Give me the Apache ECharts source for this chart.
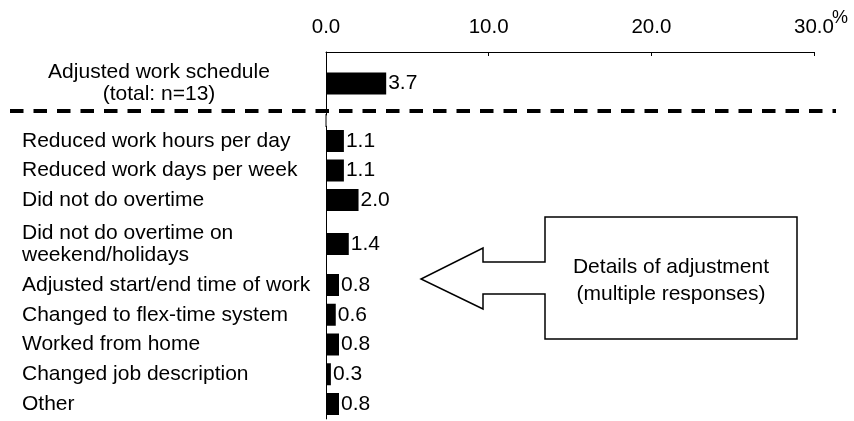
<!DOCTYPE html>
<html>
<head>
<meta charset="utf-8">
<script src="https://cdn.jsdelivr.net/npm/echarts@6/dist/echarts.min.js"></script>
<style>html,body{margin:0;padding:0;background:#fff}#c{width:854px;height:421px}</style>
</head>
<body>
<div id="c"></div>
<script>
// ---- data ----
const topCategories = ['Adjusted work schedule\n(total: n=13)'];
const topValues = [3.7];
const groupBCategories = ['Reduced work hours per day', 'Reduced work days per week', 'Did not do overtime'];
const groupBValues = [1.1, 1.1, 2.0];
const groupCCategories = ['Did not do overtime on\nweekend/holidays'];
const groupCValues = [1.4];
const groupDCategories = ['Adjusted start/end time of work', 'Changed to flex-time system', 'Worked from home', 'Changed job description', 'Other'];
const groupDValues = [0.8, 0.6, 0.8, 0.3, 0.8];
const axisMin = 0, axisMax = 30, axisStep = 10;
const unitLabel = '%';
const annotationText = 'Details of adjustment\n(multiple responses)';

// ---- chart ----
const FONT = '"Liberation Sans", Arial, sans-serif';
const chart = echarts.init(document.getElementById('c'), null, {renderer: 'canvas'});

const L = 326, R = 854 - 814;
const grids = [
  {left: L, right: R, top: 52, height: 63},
  {left: L, right: R, top: 126.25, height: 88.5},
  {left: L, right: R, top: 214.75, height: 58.5},
  {left: L, right: R, top: 270.1, height: 148.8}
];
const groups = [
  {cats: topCategories, vals: topValues, align: 'center', margin: 167},
  {cats: groupBCategories, vals: groupBValues, align: 'left', margin: 304},
  {cats: groupCCategories, vals: groupCValues, align: 'left', margin: 304},
  {cats: groupDCategories, vals: groupDValues, align: 'left', margin: 304}
];

const xAxes = grids.map((g, i) => ({
  type: 'value', gridIndex: i, min: axisMin, max: axisMax, interval: axisStep,
  position: 'top', show: i === 0,
  axisLine: {show: true, lineStyle: {color: '#000', width: 1}},
  axisTick: {show: true, inside: true, length: 4, lineStyle: {color: '#000'}},
  axisLabel: {show: true, margin: 14, color: '#000', fontSize: 20.5, fontFamily: FONT,
              formatter: v => v.toFixed(1)},
  splitLine: {show: false}
}));

const yAxes = groups.map((g, i) => ({
  type: 'category', gridIndex: i, inverse: true, data: g.cats,
  axisLine: {show: true, lineStyle: {color: '#000', width: 1}},
  axisTick: {show: false},
  axisLabel: {show: true, align: g.align, margin: g.margin, color: '#000',
              fontSize: 21, lineHeight: 22, fontFamily: FONT}
}));

const series = groups.map((g, i) => ({
  type: 'bar', xAxisIndex: i, yAxisIndex: i, data: g.vals, barWidth: 22,
  itemStyle: {color: '#000'},
  label: {show: true, position: 'right', distance: 2, color: '#000', fontSize: 21,
          fontFamily: FONT, formatter: p => p.value.toFixed(1)},
  silent: true
}));

chart.setOption({
  animation: false,
  backgroundColor: '#fff',
  grid: grids,
  xAxis: xAxes,
  yAxis: yAxes,
  series: series,
  graphic: [
    {type: 'line', shape: {x1: L, y1: 114, x2: L, y2: 127}, style: {stroke: '#000', lineWidth: 1}, z: 5},
    {type: 'line', shape: {x1: 10, y1: 111, x2: 836, y2: 111},
     style: {stroke: '#000', lineWidth: 4, lineDash: [13.5, 10]}, z: 10},
    {type: 'polygon', z: 10,
     shape: {points: [[545, 217], [797, 217], [797, 339], [545, 339], [545, 294], [483, 294],
                      [483, 309], [421, 279], [483, 248], [483, 262], [545, 262]]},
     style: {fill: '#fff', stroke: '#000', lineWidth: 1.5}},
    {type: 'text', z: 11, x: 671, y: 281,
     style: {text: annotationText, font: '21px ' + FONT, fill: '#000', align: 'center',
             verticalAlign: 'middle', lineHeight: 27}},
    {type: 'text', z: 11, x: 832, y: 9,
     style: {text: unitLabel, font: '18px ' + FONT, fill: '#000', align: 'left', verticalAlign: 'top'}}
  ]
});
</script>
</body>
</html>
